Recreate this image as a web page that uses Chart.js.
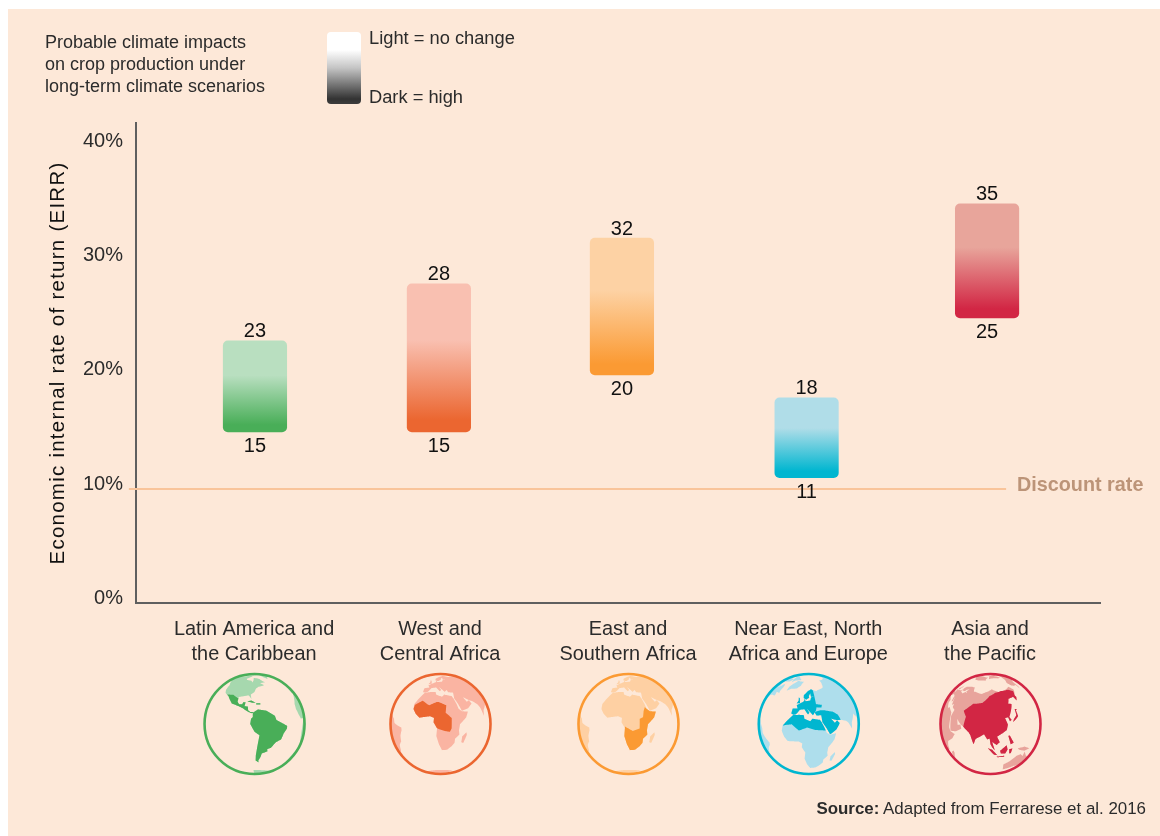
<!DOCTYPE html>
<html><head><meta charset="utf-8">
<style>
html,body{margin:0;padding:0;background:#fff;width:1160px;height:836px;overflow:hidden}
#panel{position:absolute;left:8px;top:9px;width:1152px;height:827px;background:#fde8d8}
canvas{position:absolute;left:0;top:0}
.t{position:absolute;font-family:"Liberation Sans",Arial,sans-serif;color:#2b2b2b;white-space:nowrap}
#swatch{position:absolute;left:327px;top:32px;width:34px;height:72px;border-radius:4px;background:linear-gradient(#fff 0%,#fff 25%,#c4c4c4 50%,#333 93%,#3c3c3c 100%)}
</style></head><body>
<div id="panel"></div>
<canvas id="c" width="1160" height="836"></canvas>
<div class="t" id="note" style="left:45px;top:31px;font-size:18px;line-height:22px">Probable climate impacts<br>on crop production under<br>long-term climate scenarios</div>
<div id="swatch"></div>
<div class="t" style="left:369px;top:26px;font-size:18.3px;line-height:24px">Light = no change</div>
<div class="t" style="left:369px;top:85px;font-size:18.3px;line-height:24px">Dark = high</div>
<div class="t" style="right:14px;top:798px;font-size:16.9px;line-height:22px"><b>Source:</b> Adapted from Ferrarese et al. 2016</div>
<script src="https://cdn.jsdelivr.net/npm/chart.js@4"></script>
<script>
const categories=[["Latin America and","the Caribbean"],["West and","Central Africa"],["East and","Southern Africa"],["Near East, North","Africa and Europe"],["Asia and","the Pacific"]];
const lowValues=[15,15,20,11,25];
const highValues=[23,28,32,18,35];
const discountRate=10;
const yTicks=[0,10,20,30,40];
const barSlots=[0,1.005,2.005,3.014,4];
const labelSlots=[-0.005,1.011,2.038,3.023,4.016];
const darkColours=["#49ae58","#eb6630","#fb9a33","#00b6d0","#d22644"];
const lightColours=["#b9dfc0","#f9c0b1","#fdd2a4","#b0dde8","#e8a59b"];
const globeLight=["#a6d8ae","#fab4a2","#fed0a3","#aedeec","#e8a49c"];

const NA=[[-168,66],[-162,70],[-156,71],[-140,70],[-128,70],[-115,68],[-100,68],[-95,72],[-85,70],[-82,67],[-94,60],[-92,57],[-82,55],[-80,51],[-78,56],[-78,62],[-70,61],[-65,59],[-60,54],[-56,52],[-66,50],[-60,46],[-66,44],[-70,43],[-74,40],[-76,35],[-81,31],[-80,25],[-82,28],[-84,30],[-90,29],[-97,28],[-97,26],[-106,31],[-117,32.5],[-121,35],[-124,40],[-124,48],[-130,54],[-135,58],[-145,60],[-152,59],[-160,55],[-165,54],[-158,59],[-165,62]];
const MEX=[[-117,32.5],[-106,31.5],[-97,26],[-97.5,22],[-95,18.5],[-91,18.5],[-90,21],[-87,21],[-88,16],[-84,15.5],[-83.5,11],[-81,9],[-78,9],[-77.5,8],[-80,7.5],[-85,10],[-90,13.5],[-95,16],[-105,20],[-109,25],[-113,30]];
const CUBA=[[-85,22],[-80,23],[-74,20],[-78,20]];
const HISP=[[-74,19.5],[-69,19.5],[-69,18],[-74,18]];
const SA=[[-78,8],[-72,12],[-62,10.5],[-52,5],[-50,0],[-44,-2.5],[-35,-6],[-35,-9],[-39,-15],[-41,-22],[-48,-26],[-53,-33],[-58,-35],[-57,-38],[-65,-41],[-66,-46],[-69,-52],[-68,-55],[-74,-52],[-74,-44],[-72,-30],[-70,-18],[-76,-14],[-81,-5],[-80,1],[-78,3]];
const AF=[[-17,15],[-17,21],[-13,27],[-9,32],[-6,35.5],[3,37],[10,37],[11,33],[19,30],[22,33],[32,31],[34,28],[37,21],[39,15],[43,12],[51,12],[48,5],[40,-3],[39,-10],[40,-15],[35,-20],[35,-25],[32,-29],[26,-34],[19,-34.5],[15,-27],[12,-17],[13,-8],[9,-1],[9.5,4],[5,6],[-4,5],[-8,4.5],[-13,9]];
const EA=[[-9,37],[-9,43],[-1,44],[-4,48],[2,51],[8,54],[8,57],[11,54],[20,55],[22,59],[30,60],[22,60],[21,65],[17,61],[18,59],[12,56],[6,58],[5,62],[14,68],[25,71],[40,67],[44,68],[68,69],[80,73],[105,78],[130,72],[160,70],[180,69],[178,62],[163,58],[162,55],[156,52],[156,58],[142,59],[135,54],[141,52],[130,42],[127,39],[129,35],[126,34],[125,39],[120,39],[122,31],[119,25],[110,21],[106,19],[109,12],[105,9],[100,13],[103,2],[100,6],[98,10],[97,17],[94,16],[90,22],[80,15],[78,8],[73,18],[70,21],[62,25],[57,26],[52,28],[48,30],[52,24],[56,26],[59,22],[52,16],[43,12.5],[39,21],[35,28],[35,36],[28,36.5],[26,40],[23,37],[20,40],[14,45],[18,40],[16,38],[10,44],[3,43],[0,39],[-2,37],[-5,36]];
const GR=[[-45,60],[-53,66],[-60,76],[-70,78],[-30,83],[-20,75],[-25,69],[-40,65]];
const ARC=[[-120,72],[-90,72],[-70,70],[-62,66],[-78,74],[-70,82],[-95,80],[-120,76]];
const UK=[[-5,50],[1,51],[-2,57],[-5,58],[-3,54]];
const MAD=[[47,-25],[50,-15],[49,-12],[44,-17],[44,-24]];
const JP=[[130,32],[136,34],[141,36],[142,43],[145,44],[141,45],[139,38],[133,35]];
const SUM=[[95,5],[100,3],[106,-5],[102,-4]];
const BOR=[[109,1],[117,7],[118,1],[115,-4],[110,-3]];
const JAV=[[105,-7],[114,-7],[114,-8.5],[106,-8]];
const SUL=[[120,1],[124,1],[122,-5],[120,-5]];
const PHI=[[120,18],[122,18],[126,8],[122,7]];
const NG=[[131,-1],[141,-3],[150,-10],[141,-9],[133,-4]];
const AU=[[114,-22],[122,-18],[130,-12],[136,-12],[140,-17],[142,-11],[146,-19],[153,-27],[150,-37],[144,-39],[138,-35],[131,-32],[124,-33],[115,-34]];
const ANT=[[-80,-72],[-30,-72],[0,-70],[60,-70],[60,-85],[-80,-85]];
const allLand=[NA,MEX,CUBA,HISP,SA,AF,EA,GR,ARC,UK,MAD,JP,SUM,BOR,JAV,SUL,PHI,NG,AU,ANT];
const WCAF=[[-17,15],[-16,20],[-6,25],[3,19],[12,23],[15,23],[24,19],[23,10],[30,4],[30,-8],[28,-12],[22,-11],[13,-8],[9,-1],[9.5,4],[5,6],[-4,5],[-8,4.5],[-13,9]];
const ESAF=[[37,17],[39,15],[43,12],[51,12],[48,5],[40,-3],[39,-10],[40,-15],[35,-20],[35,-25],[32,-29],[26,-34],[19,-34.5],[15,-27],[12,-17],[13,-6],[22,-11],[30,-8],[30,3],[34,5],[35,12]];
const EUR=[[-9,37],[-9,43],[-1,44],[-4,48],[2,51],[8,54],[8,57],[11,54],[20,55],[22,59],[28,60],[22,60],[21,65],[17,61],[18,59],[12,56],[6,58],[5,62],[14,68],[25,71],[30,69],[30,60],[30,50],[40,48],[38,45],[30,46],[28,42],[26,40],[23,37],[20,40],[14,45],[18,40],[16,38],[10,44],[3,43],[0,39],[-2,37],[-5,36]];
const ME=[[26,40],[28,36.5],[35,36],[35,28],[39,21],[43,12.5],[52,16],[59,22],[56,26],[52,24],[48,30],[52,28],[57,26],[62,25],[60,32],[54,37],[48,39],[42,41],[35,42],[28,41]];
const NAF=[[-17,21],[-13,27],[-9,32],[-6,35.5],[3,37],[10,37],[11,33],[19,30],[22,33],[32,31],[34,28],[37,21],[38,18],[25,20],[15,23],[5,19],[-5,25],[-12,23]];
const ASIA=[[61,25],[60,37],[52,42],[62,54],[80,58],[95,68],[115,72],[140,72],[165,68],[172,62],[163,58],[162,55],[156,52],[156,58],[142,59],[135,54],[141,52],[130,42],[127,39],[129,35],[126,34],[125,39],[120,39],[122,31],[119,25],[110,21],[106,19],[109,12],[105,9],[100,13],[103,2],[100,6],[98,10],[97,17],[94,16],[90,22],[80,15],[78,8],[73,18],[70,21]];
const globeViews=[
 {lon:-76,lat:-5,dark:[MEX,CUBA,HISP,SA]},
 {lon:17,lat:-3,dark:[WCAF]},
 {lon:17,lat:-3,dark:[ESAF]},
 {lon:17,lat:27,dark:[EUR,UK,ME,NAF]},
 {lon:98,lat:34,dark:[ASIA,JP,SUM,BOR,JAV,SUL,PHI]}
];

function project(p,v){
  const r=Math.PI/180,d=(p[0]-v.lon)*r,f=p[1]*r,c=v.lat*r;
  let x=Math.cos(f)*Math.sin(d);
  let y=Math.cos(c)*Math.sin(f)-Math.sin(c)*Math.cos(f)*Math.cos(d);
  const z=Math.sin(c)*Math.sin(f)+Math.cos(c)*Math.cos(f)*Math.cos(d);
  if(z<0){const n=Math.hypot(x,y)||1;x/=n;y/=n;}
  return [x,y];
}
function tracePoly(ctx,poly,v,cx,cy,R){
  ctx.beginPath();
  let first=true;
  poly.forEach((p,i)=>{
    const n=poly[(i+1)%poly.length];
    for(let s=0;s<10;s++){
      const t=s/10,q=project([p[0]+(n[0]-p[0])*t,p[1]+(n[1]-p[1])*t],v);
      const X=cx+q[0]*R,Y=cy-q[1]*R;
      if(first){ctx.moveTo(X,Y);first=false;}else ctx.lineTo(X,Y);
    }
  });
  ctx.closePath();ctx.fill();
}
const extras={id:'extras',
 afterDatasetsDraw(chart){
  const ctx=chart.ctx,x=chart.scales.x;
  const meta=chart.getDatasetMeta(0);
  ctx.save();
  ctx.font='20px "Liberation Sans",Arial,sans-serif';ctx.fillStyle='#111';ctx.textAlign='center';ctx.textBaseline='middle';
  meta.data.forEach((el,i)=>{
    const top=chart.scales.y.getPixelForValue(highValues[i]),bot=chart.scales.y.getPixelForValue(lowValues[i]);
    ctx.fillText(String(highValues[i]),el.x,top-9);
    ctx.fillText(String(lowValues[i]),el.x,bot+15);
  });
  ctx.font='bold 19.8px "Liberation Sans",Arial,sans-serif';ctx.fillStyle='#bc9478';ctx.textAlign='left';
  ctx.fillText('Discount rate',1017,chart.scales.y.getPixelForValue(discountRate)-3);
  const R=50,cy=724;
  globeViews.forEach((v,i)=>{
    const cx=x.getPixelForValue(labelSlots[i])+0.5;
    ctx.save();
    ctx.beginPath();ctx.arc(cx,cy,R,0,Math.PI*2);ctx.clip();
    ctx.fillStyle=globeLight[i];
    allLand.forEach(p=>tracePoly(ctx,p,v,cx,cy,R));
    ctx.fillStyle=darkColours[i];
    v.dark.forEach(p=>tracePoly(ctx,p,v,cx,cy,R));
    ctx.restore();
    ctx.beginPath();ctx.arc(cx,cy,R,0,Math.PI*2);ctx.lineWidth=2.6;ctx.strokeStyle=darkColours[i];ctx.stroke();
  });
  ctx.restore();
 }};
new Chart(document.getElementById('c'),{
 type:'bar',
 data:{datasets:[
  {type:'bar',order:1,data:categories.map((c,i)=>({x:barSlots[i],y:[lowValues[i],highValues[i]]})),barThickness:63.5,borderRadius:5,borderSkipped:false,borderWidth:0,
   backgroundColor(ctx){
    const ch=ctx.chart,i=ctx.dataIndex;
    if(!ch.chartArea||i===undefined)return lightColours[0];
    const y=ch.scales.y,t=y.getPixelForValue(highValues[i]),b=y.getPixelForValue(lowValues[i]);
    const g=ch.ctx.createLinearGradient(0,t,0,b);
    g.addColorStop(0,lightColours[i]);g.addColorStop(0.38,lightColours[i]);g.addColorStop(0.92,darkColours[i]);g.addColorStop(1,darkColours[i]);
    return g;
   }},
  {type:'line',order:2,data:[{x:-0.689,y:discountRate},{x:4.104,y:discountRate}],borderColor:'#f9c49a',borderWidth:2,pointRadius:0,clip:false}
 ]},
 options:{responsive:false,animation:false,
  layout:{padding:{left:0,top:123,right:60,bottom:0}},
  plugins:{legend:{display:false},tooltip:{enabled:false}},
  scales:{
   x:{type:'linear',offset:false,min:-0.65,max:4.617,grid:{display:false,drawTicks:false},border:{display:true,color:'#5f5f5f',width:2},
      afterBuildTicks(a){a.ticks=labelSlots.map(v=>({value:v}));},
      afterFit(a){a.height=233;},
      ticks:{autoSkip:false,maxRotation:0,minRotation:0,padding:14,color:'#2b2b2b',font:{family:'"Liberation Sans",Arial,sans-serif',size:19.9,lineHeight:1.27},
        callback(v,i){return categories[i];}}},
   y:{type:'linear',min:0,max:42.1,grid:{display:false,drawTicks:false},border:{display:true,color:'#5f5f5f',width:2},
      afterBuildTicks(a){a.ticks=yTicks.map(v=>({value:v}));},
      afterFit(a){a.width=136;},
      afterUpdate(a){
        if(a._spaced)return;a._spaced=true;
        const draw=a.drawTitle;
        a.drawTitle=function(){this.ctx.save();this.ctx.letterSpacing='1.25px';draw.call(this);this.ctx.restore();};
      },
      title:{display:true,text:'Economic internal rate of return (EIRR)',color:'#111',font:{family:'"Liberation Sans",Arial,sans-serif',size:20.5},padding:{top:46,bottom:0}},
      ticks:{padding:13,labelOffset:-5,color:'#2b2b2b',font:{family:'"Liberation Sans",Arial,sans-serif',size:20},callback(v){return v+'%';}}}
  }},
 plugins:[extras]
});
</script></body></html>
